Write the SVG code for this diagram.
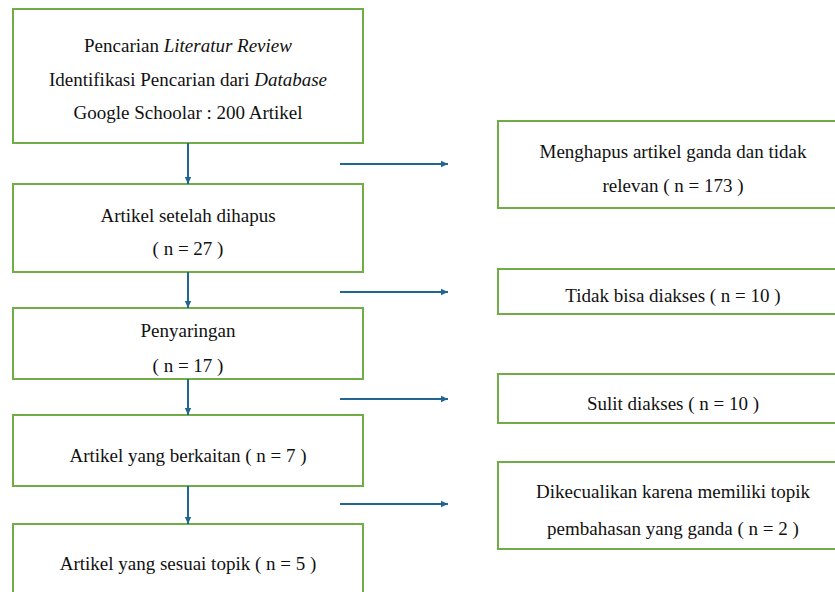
<svg xmlns="http://www.w3.org/2000/svg" width="835" height="592" viewBox="0 0 835 592">
<defs>
<marker id="ah" markerWidth="8" markerHeight="8" refX="7" refY="4" orient="auto" markerUnits="userSpaceOnUse">
<path d="M0,0.8 L7,4 L0,7.2 Z" fill="#1F6690"/>
</marker>
</defs>
<rect width="835" height="592" fill="#fff"/>
<g id="n1"><rect x="13" y="9" width="350" height="134" fill="#fff" stroke="#70AD47" stroke-width="2"/>
<text x="188" y="52" style="font-family:'Liberation Serif',serif;font-size:19px;fill:#111;text-anchor:middle">Pencarian <tspan style="font-style:italic">Literatur Review</tspan></text>
<text x="188" y="86" style="font-family:'Liberation Serif',serif;font-size:19px;fill:#111;text-anchor:middle">Identifikasi Pencarian dari <tspan style="font-style:italic">Database</tspan></text>
<text x="188" y="119" style="font-family:'Liberation Serif',serif;font-size:19px;fill:#111;text-anchor:middle">Google Schoolar : 200 Artikel</text></g>
<g id="n2"><rect x="13" y="184" width="350" height="88" fill="#fff" stroke="#70AD47" stroke-width="2"/>
<text x="188" y="222" style="font-family:'Liberation Serif',serif;font-size:19px;fill:#111;text-anchor:middle">Artikel setelah dihapus</text>
<text x="188" y="255" style="font-family:'Liberation Serif',serif;font-size:19px;fill:#111;text-anchor:middle">( n = 27 )</text></g>
<g id="n3"><rect x="13" y="308" width="350" height="71" fill="#fff" stroke="#70AD47" stroke-width="2"/>
<text x="188" y="337" style="font-family:'Liberation Serif',serif;font-size:19px;fill:#111;text-anchor:middle">Penyaringan</text>
<text x="188" y="372" style="font-family:'Liberation Serif',serif;font-size:19px;fill:#111;text-anchor:middle">( n = 17 )</text></g>
<g id="n4"><rect x="13" y="415" width="350" height="71" fill="#fff" stroke="#70AD47" stroke-width="2"/>
<text x="188" y="462" style="font-family:'Liberation Serif',serif;font-size:19px;fill:#111;text-anchor:middle">Artikel yang berkaitan ( n = 7 )</text></g>
<g id="n5"><rect x="13" y="524" width="350" height="80" fill="#fff" stroke="#70AD47" stroke-width="2"/>
<text x="188" y="570" style="font-family:'Liberation Serif',serif;font-size:19px;fill:#111;text-anchor:middle">Artikel yang sesuai topik ( n = 5 )</text></g>
<g id="r1"><rect x="498" y="121" width="350" height="87" fill="#fff" stroke="#70AD47" stroke-width="2"/>
<text x="673" y="158" style="font-family:'Liberation Serif',serif;font-size:19px;fill:#111;text-anchor:middle">Menghapus artikel ganda dan tidak</text>
<text x="673" y="192" style="font-family:'Liberation Serif',serif;font-size:19px;fill:#111;text-anchor:middle">relevan ( n = 173 )</text></g>
<g id="r2"><rect x="498" y="269" width="350" height="45" fill="#fff" stroke="#70AD47" stroke-width="2"/>
<text x="673" y="302" style="font-family:'Liberation Serif',serif;font-size:19px;fill:#111;text-anchor:middle">Tidak bisa diakses ( n = 10 )</text></g>
<g id="r3"><rect x="498" y="374" width="350" height="49" fill="#fff" stroke="#70AD47" stroke-width="2"/>
<text x="673" y="410" style="font-family:'Liberation Serif',serif;font-size:19px;fill:#111;text-anchor:middle">Sulit diakses ( n = 10 )</text></g>
<g id="r4"><rect x="498" y="462" width="350" height="87" fill="#fff" stroke="#70AD47" stroke-width="2"/>
<text x="673" y="498" style="font-family:'Liberation Serif',serif;font-size:19px;fill:#111;text-anchor:middle">Dikecualikan karena memiliki topik</text>
<text x="673" y="535" style="font-family:'Liberation Serif',serif;font-size:19px;fill:#111;text-anchor:middle">pembahasan yang ganda ( n = 2 )</text></g>
<g id="connectors" stroke="#1F6690" stroke-width="2" fill="none" marker-end="url(#ah)">
<line x1="188" y1="143" x2="188" y2="184"/>
<line x1="188" y1="272" x2="188" y2="308"/>
<line x1="188" y1="379" x2="188" y2="415"/>
<line x1="188" y1="486" x2="188" y2="524"/>
<line x1="340" y1="164" x2="448" y2="164"/>
<line x1="340" y1="292" x2="448" y2="292"/>
<line x1="340" y1="399" x2="448" y2="399"/>
<line x1="340" y1="504" x2="448" y2="504"/>
</g>
</svg>
